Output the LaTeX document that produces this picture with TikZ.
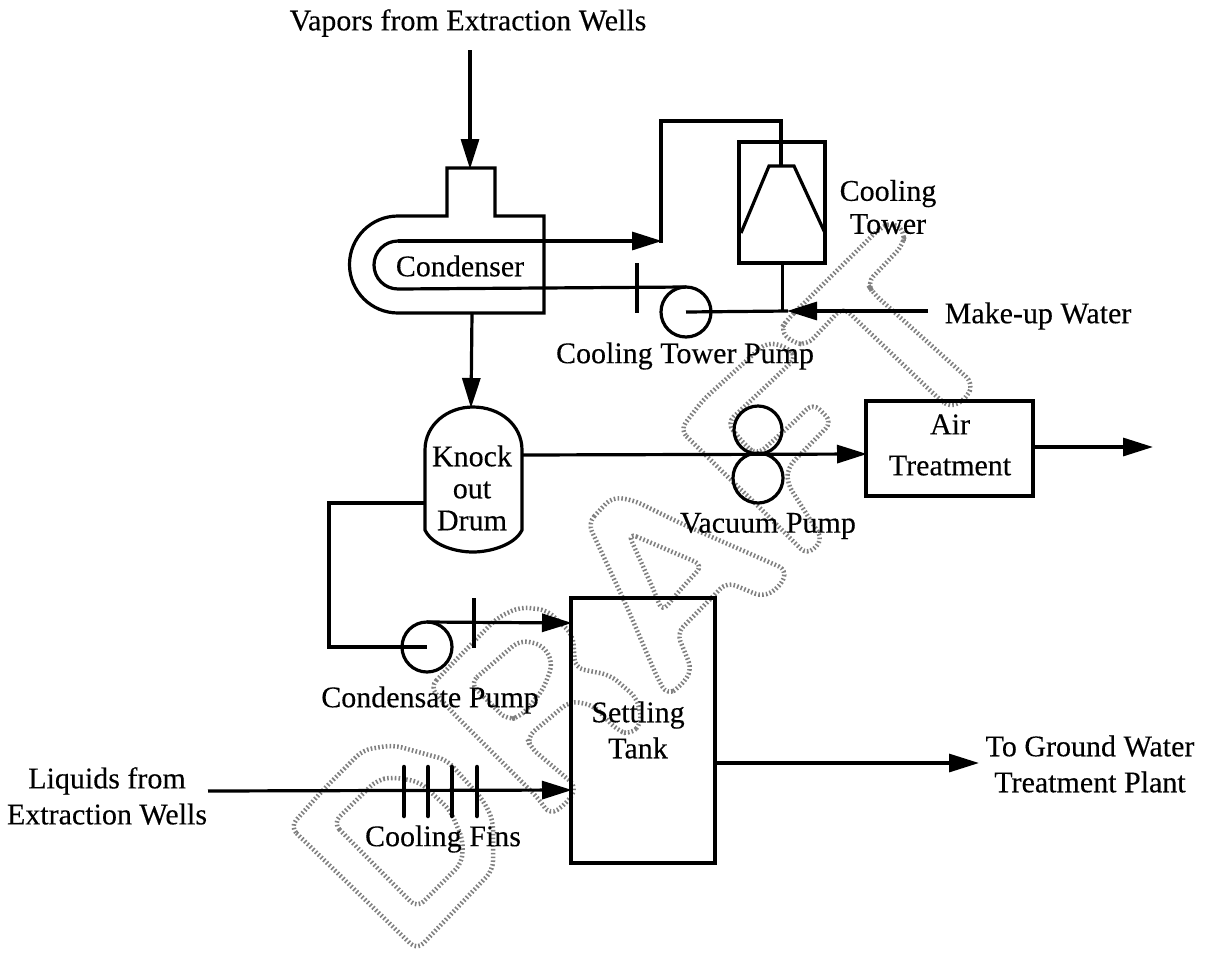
\documentclass[tikz,border=0pt]{standalone}
\usepackage{fontspec}
\setmainfont{Liberation Serif}[FakeBold=0.25,AutoFakeBold=0.25]
\newfontfamily\lblfont{Liberation Serif}[FakeBold=0.25]
\usetikzlibrary{arrows.meta,calc}
\tikzset{
  pipe/.style={line width=3.2pt,line join=miter},
  flow/.style={pipe,-{Triangle[length=30pt,width=18pt]},shorten >=-1pt},
  unit/.style={draw,pipe,rectangle,inner sep=0pt,outer sep=0pt},
  pumpc/.style={draw,pipe,circle,inner sep=0pt,outer sep=0pt},
  tick/.style={line width=3.2pt},
  fin/.style={line width=4.5pt,line cap=round},
  lbl/.style={font=\lblfont\fontsize{30}{36}\selectfont,align=center,inner sep=0pt,text=black},
  wm/.style={draw=black!50,line width=4.5pt,dash pattern=on 1.6pt off 2.2pt,rounded corners=9pt}
}
\begin{document}
\begin{tikzpicture}[x=1pt,y=-1pt]
\useasboundingbox[fill=white] (0,0) rectangle (1209,956);
% DRAFT watermark
\draw[wm] (290,827)--(417,950)--(493,870)--(493,820)--(483,800)--(447,760)--(393,745)--(363,750)--(323,790)--cycle;
\draw[wm] (333,823)--(417,908)--(462,863)--(463,840)--(450,810)--(420,782)--(393,777)--(377,780)--cycle;
\draw[wm] (430,687)--(453,663)--(497,618)--(520,607)--(547,610)--(573,635)--(575,668)--(610,675)--(637,698)--(642,723)--(630,735)--(617,730)--(593,705)--(570,701)--(527,737)--(530,747)--(577,787)--(567,803)--(550,815)--(538,798)--(453,713)--cycle;
\draw[wm] (470,683)--(520,640)--(543,645)--(553,663)--(543,690)--(520,717)--(507,720)--cycle;
\draw[wm] (588,523)--(612,497)--(633,500)--(680,523)--(787,570)--(780,587)--(763,597)--(727,582)--(677,633)--(692,670)--(680,687)--(667,695)--(657,677)--(627,607)--cycle;
\draw[wm] (628,533)--(703,565)--(680,590)--(662,612)--(655,593)--cycle;
\draw[wm] (680,430)--(733,482)--(757,505)--(807,555)--(823,540)--(787,483)--(788,467)--(832,422)--(813,403)--(793,423)--(757,455)--(745,445)--(727,423)--(797,357)--(787,347)--(767,342)--(703,400)--cycle;
\draw[wm] (787,320)--(880,228)--(893,222)--(905,232)--(903,245)--(867,283)--(873,293)--(973,383)--(967,398)--(950,408)--(937,397)--(843,307)--(807,345)--(793,343)--(780,330)--cycle;

% equipment
\node[unit,minimum width=86pt,minimum height=121pt] (tower) at (782,202.5) {};
\node[unit,minimum width=167pt,minimum height=95pt] (air) at (949.5,448.5) {};
\node[unit,minimum width=144pt,minimum height=265pt] (tank) at (643,730.5) {};
\node[pumpc,minimum size=50pt] (ctp) at (686,312) {};
\node[pumpc,minimum size=50pt] (cdp) at (427,647) {};
\node[pumpc,minimum size=48pt] (vp1) at (758,430) {};
\node[pumpc,minimum size=50pt] (vp2) at (758,478) {};
% condenser shell
\draw[pipe] (544,216)--(495,216)--(495,168)--(447,168)--(447,216)--(398,216)
  arc[start angle=270,end angle=90,radius=48.5]--(544,313)--cycle;
\coordinate (cnN) at (470,168);
\coordinate (cnS) at (472,313);
% drum
\draw[pipe] (425,530)--(425,450) .. controls (425,425) and (447,407) .. (473,407)
  .. controls (500,407) and (522,425) .. (522,450)--(522,530)
  .. controls (515,545) and (490,552) .. (473,552)
  .. controls (455,552) and (432,545) .. (425,530)--cycle;
\coordinate (drN) at (471,407);
\coordinate (drE) at (522,455);
\coordinate (drW) at (425,503);
% tower fill
\coordinate (trL) at (741,233); \coordinate (trR) at (825,233);
\coordinate (trA) at (769,166); \coordinate (trB) at (794,166);
\draw[pipe] (trL)--(trA)--(trB)--(trR);
% vapors
\coordinate (vapTop) at (470,50);
\draw[flow] (vapTop)--(cnN);
% condenser to tower
\coordinate (c1) at (398,241);
\coordinate (c3) at (661,241); \coordinate (c4) at (661,121);
\coordinate (c5) at (781,121); \coordinate (c6) at (781,166);
\draw[flow] (c1)--(c3);
\draw[pipe] (c1) arc[start angle=270,end angle=90,radius=24]--(ctp.north);
\draw[pipe] ($(c3)+(0,1.5)$)--(c4)--(c5)--(c6);
\coordinate (tk1) at (637,263); \coordinate (tk2) at (637,313);
\draw[tick] (tk1)--(tk2);
% cooling tower return / make-up
\coordinate (mu) at (928,311); \coordinate (muT) at (788,311);
\coordinate (twS) at (782.5,263); \coordinate (twJ) at (782.5,311);
\draw[flow] (mu)--(muT);
\draw[pipe] (muT)--(ctp.center);
\draw[pipe] (tower.south -| twS)--(twJ);
% condenser to drum
\draw[flow] (cnS)--(drN);
% drum to air
\coordinate (airW) at (866,454);
\draw[flow] (drE)--(airW);
\coordinate (airE) at (1033,447); \coordinate (airOut) at (1152,447);
\draw[flow] (airE)--(airOut);
% drum to condensate pump
\coordinate (d1) at (329,503); \coordinate (d2) at (329,647);
\draw[pipe] (drW)--(d1)--(d2)--(cdp.center);
\coordinate (tkA) at (571,623);
\draw[flow] (cdp.north)--(tkA);
\coordinate (tk3) at (474,598); \coordinate (tk4) at (474,648);
\draw[tick] (tk3)--(tk4);
% liquids
\coordinate (liq) at (208,791); \coordinate (tkB) at (571,790);
\draw[flow] (liq)--(tkB);
\coordinate (f1a) at (404,767); \coordinate (f1b) at (404,816);
\coordinate (f2a) at (428,767); \coordinate (f2b) at (428,816);
\coordinate (f3a) at (452,767); \coordinate (f3b) at (452,816);
\coordinate (f4a) at (477,767); \coordinate (f4b) at (477,816);
\draw[fin] (f1a)--(f1b); \draw[fin] (f2a)--(f2b); \draw[fin] (f3a)--(f3b); \draw[fin] (f4a)--(f4b);
% tank out
\coordinate (tkE) at (715,763); \coordinate (tkOut) at (978,763);
\draw[flow] (tkE)--(tkOut);
% labels
\node[lbl] (t1) at (468,23) {Vapors from Extraction Wells};
\node[lbl] (t2) at (888,207) {Cooling\\[-3pt]Tower};
\node[lbl] (t3) at (1038,316) {Make-up Water};
\node[lbl] (t4) at (685,356) {Cooling Tower Pump};
\node[lbl] (t5) at (768,526) {Vacuum Pump};
\node[lbl] (t6) at (430,700) {Condensate Pump};
\node[lbl] (t7) at (638,730) {Settling\\Tank};
\node[lbl] (t8) at (950,445) {Air\\[5pt]Treatment};
\node[lbl] (t9) at (1090,764) {To Ground Water\\Treatment Plant};
\node[lbl] (t10) at (107,796) {Liquids from\\Extraction Wells};
\node[lbl] (t11) at (443,839) {Cooling Fins};
\node[lbl] (t12) at (460,266) {Condenser};
\node[lbl] (t13) at (472,488) {Knock\\[-4pt]out\\[-4pt]Drum};
\end{tikzpicture}
\end{document}
